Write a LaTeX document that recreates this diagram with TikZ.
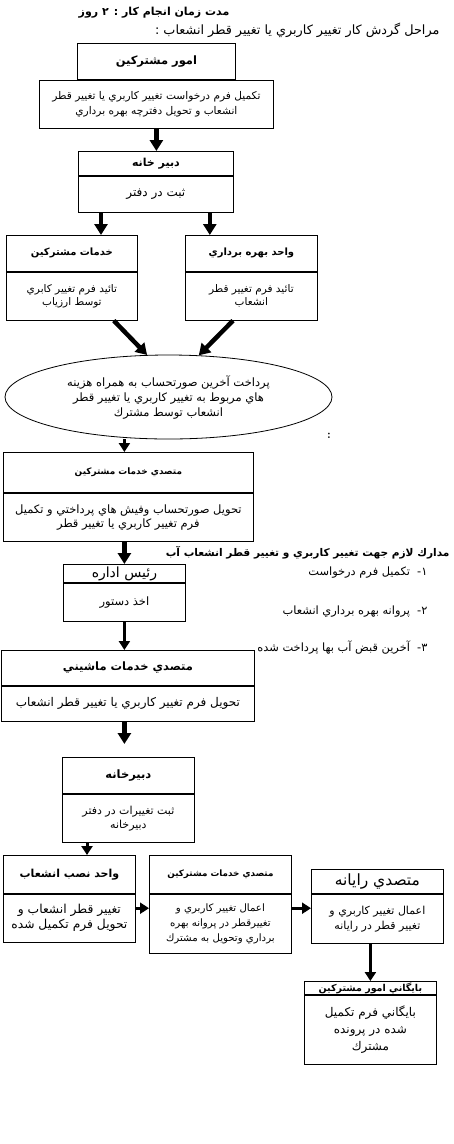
\documentclass[tikz,border=0pt]{standalone}
\usepackage{fontspec}
\usetikzlibrary{arrows.meta,positioning,shapes.geometric}
\newfontfamily\arabicfont[Script=Arabic]{DejaVu Sans}
\TeXXeTstate=1
\newcommand\fa[1]{{\arabicfont\beginR#1\endR}}
\newcommand\fsz[2]{\fontsize{#1}{#2}\selectfont}

\begin{document}
\begin{tikzpicture}[
    x=1pt, y=-1pt,
    headbox/.style={draw, line width=0.8pt, align=center, inner sep=1pt, font=\fsz{10}{12}\bfseries},
    bodybox/.style={draw, line width=0.8pt, align=center, inner sep=1pt, font=\fsz{10.5}{14}},
    listitem/.style={anchor=east, font=\fsz{11.4}{13}},
    arr/.style={line width=4.5pt, -{Triangle[width=13pt,length=11pt]}},
    arrs/.style={line width=3pt, -{Triangle[width=11pt,length=9pt]}}
  ]
    \useasboundingbox (0,0) rectangle (453,1144);

    % titles
    \node[font=\fsz{11}{13}\bfseries] (zaman) at (154,13) {\fa{مدت زمان انجام كار : ۲ روز}};
    \node[anchor=east, font=\fsz{12.8}{14}] (marahel) at (443,30) {\fa{مراحل گردش كار تغيير كاربري يا تغيير قطر انشعاب :}};

    \node[headbox, minimum width=158pt, minimum height=36pt, anchor=north west, font=\fsz{11.5}{13}\bfseries] (umur-h) at (77,43) {\fa{امور مشتركين}};
    \node[bodybox, minimum width=234pt, minimum height=48pt, below=0pt of umur-h, font=\fsz{10.6}{15}] (umur) {\fa{تكميل فرم درخواست تغيير كاربري يا تغيير قطر}\\\fa{انشعاب و تحويل دفترچه بهره برداري}};

    \node[headbox, minimum width=155pt, minimum height=24pt, anchor=north west, font=\fsz{11}{13}\bfseries] (dabir-h) at (78,151) {\fa{دبير خانه}};
    \node[bodybox, minimum width=155pt, minimum height=36pt, below=0pt of dabir-h, font=\fsz{12}{14}] (dabir) {\fa{ثبت در دفتر}};

    \node[headbox, minimum width=131pt, minimum height=36pt, anchor=north west] (khadamat-h) at (6,235) {\fa{خدمات مشتركين}};
    \node[bodybox, minimum width=131pt, minimum height=48pt, below=0pt of khadamat-h, font=\fsz{10.5}{13}] (khadamat) {\fa{تائيد فرم تغيير كابري}\\\fa{توسط ارزياب}};
    \node[headbox, minimum width=132pt, minimum height=36pt, anchor=north west] (bahre-h) at (185,235) {\fa{واحد بهره برداري}};
    \node[bodybox, minimum width=132pt, minimum height=48pt, below=0pt of bahre-h, font=\fsz{10.5}{13}] (bahre) {\fa{تائيد فرم تغيير قطر}\\\fa{انشعاب}};

    \node[ellipse, draw, line width=0.8pt, minimum width=327pt, minimum height=84pt, inner sep=0pt, align=center, font=\fsz{11.5}{15}] (pardakht) at (168.5,397) {\fa{پرداخت آخرين صورتحساب به همراه هزينه}\\\fa{هاي مربوط به تغيير كاربري يا تغيير قطر}\\\fa{انشعاب توسط مشترك}};
    \node[font=\fsz{12}{14}\bfseries] (colon) at (329,436) {:};

    \node[headbox, minimum width=250pt, minimum height=40pt, anchor=north west, font=\fsz{8.9}{10}\bfseries] (motasadi-h) at (3,452) {\fa{متصدي خدمات مشتركين}};
    \node[bodybox, minimum width=250pt, minimum height=48pt, below=0pt of motasadi-h, font=\fsz{11.5}{14}] (motasadi) {\fa{تحويل صورتحساب وفيش هاي پرداختي و تكميل}\\\fa{فرم تغيير كاربري يا تغيير قطر}};

    % documents list
    \node[anchor=east, font=\fsz{10.6}{13}\bfseries] (madarek) at (453,553) {\fa{مدارك لازم جهت تغيير كاربري و تغيير قطر انشعاب آب}};
    \node[listitem] (item1) at (431,573) {\fa{۱-\ \ تكميل فرم درخواست}};
    \node[listitem] (item2) at (431,612) {\fa{۲-\ \ پروانه بهره برداري انشعاب}};
    \node[listitem] (item3) at (431,648) {\fa{۳-\ \ آخرين قبض آب بها پرداخت شده}};

    \node[headbox, minimum width=122pt, minimum height=18pt, anchor=north west, inner sep=0pt, font=\fsz{14}{15}] (rais-h) at (63,564) {\fa{رئيس اداره}};
    \node[bodybox, minimum width=122pt, minimum height=38pt, below=0pt of rais-h, inner sep=0pt, font=\fsz{11.5}{13}] (rais) {\fa{اخذ دستور}};

    \node[headbox, minimum width=253pt, minimum height=35pt, anchor=north west, font=\fsz{11.5}{13}\bfseries] (mashini-h) at (1,650) {\fa{متصدي خدمات ماشيني}};
    \node[bodybox, minimum width=253pt, minimum height=35pt, below=0pt of mashini-h, font=\fsz{12}{14}] (mashini) {\fa{تحويل فرم تغيير كاربري يا تغيير قطر انشعاب}};

    \node[headbox, minimum width=132pt, minimum height=36pt, anchor=north west, font=\fsz{11.5}{13}\bfseries] (dabirkhane-h) at (62,757) {\fa{دبيرخانه}};
    \node[bodybox, minimum width=132pt, minimum height=48pt, below=0pt of dabirkhane-h, font=\fsz{11}{14}] (dabirkhane) {\fa{ثبت تغييرات در دفتر}\\\fa{دبيرخانه}};

    % bottom row
    \node[headbox, minimum width=132pt, minimum height=38pt, anchor=north west, font=\fsz{11}{13}\bfseries] (nasb-h) at (3,855) {\fa{واحد نصب انشعاب}};
    \node[bodybox, minimum width=132pt, minimum height=48pt, below=0pt of nasb-h, font=\fsz{12.3}{15}] (nasb) {\fa{تغيير قطر انشعاب و}\\\fa{تحويل فرم تكميل شده}};
    \node[headbox, minimum width=142pt, minimum height=38pt, anchor=north west, font=\fsz{8.8}{10}\bfseries] (motasadi2-h) at (149,855) {\fa{متصدي خدمات مشتركين}};
    \node[bodybox, minimum width=142pt, minimum height=59pt, below=0pt of motasadi2-h, font=\fsz{10.2}{15}] (motasadi2) {\fa{اعمال تغيير كاربري و}\\\fa{تغييرقطر در پروانه بهره}\\\fa{برداري وتحويل به مشترك}};
    \node[headbox, minimum width=132pt, minimum height=24pt, anchor=north west, inner sep=0pt, font=\fsz{15.5}{17}] (rayane-h) at (311,869) {\fa{متصدي رايانه}};
    \node[bodybox, minimum width=132pt, minimum height=49pt, below=0pt of rayane-h, font=\fsz{11}{15}] (rayane) {\fa{اعمال تغيير كاربري و}\\\fa{تغيير قطر در رايانه}};

    \node[headbox, minimum width=132pt, minimum height=13pt, anchor=north west, inner sep=0pt, font=\fsz{9.5}{10}\bfseries] (baygani-h) at (304,981) {\fa{بايگاني امور مشتركين}};
    \node[bodybox, minimum width=132pt, minimum height=69pt, below=0pt of baygani-h, font=\fsz{12}{17}] (baygani) {\fa{بايگاني فرم تكميل}\\\fa{شده در پرونده}\\\fa{مشترك}};

    % connectors
    \draw[arr] (umur.south) -- (umur.south |- dabir-h.north);
    \draw[arr] ([xshift=23pt]dabir.south west) -- ([xshift=23pt]dabir.south west |- khadamat-h.north);
    \draw[arr] ([xshift=-24pt]dabir.south east) -- ([xshift=-24pt]dabir.south east |- bahre-h.north);
    \draw[arr] ([xshift=-24pt]khadamat.south east) -- (pardakht.117);
    \draw[arr] ([xshift=48pt]bahre.south west) -- (pardakht.54);
    \draw[arrs] (pardakht.south -| rais-h.north) -- (motasadi-h.north -| rais-h.north);
    \draw[arr] (motasadi.south -| rais-h.north) -- (rais-h.north);
    \draw[arrs] (rais.south) -- (rais.south |- mashini-h.north);
    \draw[arr, shorten >=13pt] (mashini.south -| rais.south) -- (dabirkhane-h.north -| rais.south);
    \draw[arrs] ([xshift=25pt]dabirkhane.south west) -- ([xshift=25pt]dabirkhane.south west |- nasb-h.north);
    \coordinate (m1) at ([yshift=10pt]nasb.east);
    \draw[arrs] (m1) -- (m1 -| motasadi2.west);
    \coordinate (m2) at (motasadi2.east |- m1);
    \draw[arrs] (m2) -- (m2 -| rayane.west);
    \draw[arrs] (rayane.south -| baygani-h.north) -- (baygani-h.north);
\end{tikzpicture}
\end{document}
